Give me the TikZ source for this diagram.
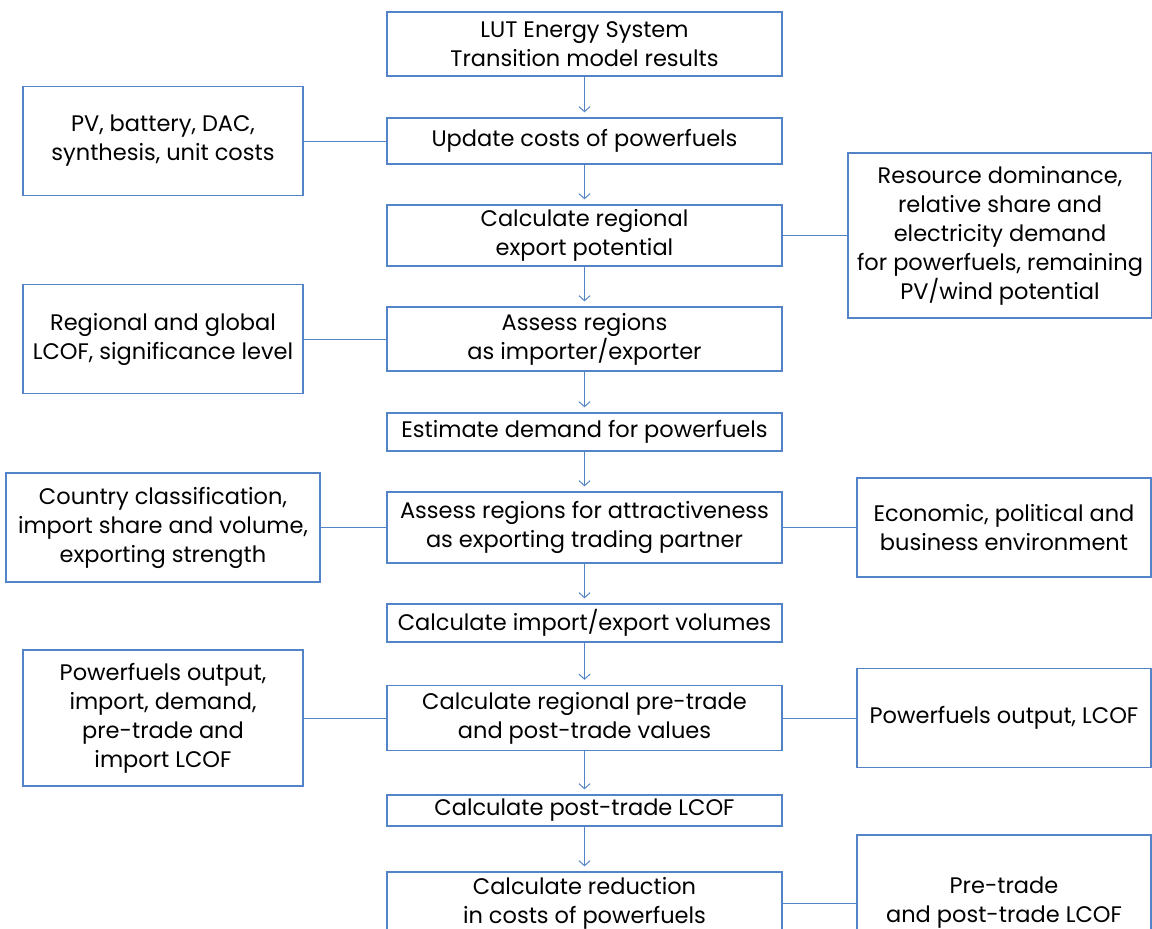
\documentclass[tikz,border=0pt]{standalone}
\usepackage{fontspec}
\setmainfont{Poppins}
\usepackage{xcolor}
\usetikzlibrary{positioning,arrows.meta}
\definecolor{boxblue}{RGB}{84,132,200}

\begin{document}
\begin{tikzpicture}[
    x=1pt,y=-1pt,
    font=\fontsize{22.5}{29}\selectfont,
    stage/.style={draw=boxblue,line width=1.3pt,minimum width=395pt,inner sep=0pt,align=center},
    input/.style={draw=boxblue,line width=1.3pt,inner sep=0pt,align=center},
    arr/.style={-{Straight Barb[length=5pt,width=11pt]},draw=boxblue,line width=1pt,shorten >=5pt},
    link/.style={draw=boxblue,line width=1pt}
  ]
    \useasboundingbox (0,0) rectangle (1152,929);

    \node[stage,minimum height=64pt] (lut) at (584.5,44) {LUT Energy System\\ Transition model results};
    \node[stage,minimum height=46pt] (upd) at (584.5,141) {Update costs of powerfuels};
    \node[stage,minimum height=61pt] (exp) at (584.5,235.5) {Calculate regional\\export potential};
    \node[stage,minimum height=64pt] (ass) at (584.5,339) {Assess regions\\as importer/exporter};
    \node[stage,minimum height=38pt] (dem) at (584.5,432) {Estimate demand for powerfuels};
    \node[stage,minimum height=71pt] (att) at (584.5,527.5) {Assess regions for attractiveness\\as exporting trading partner};
    \node[stage,minimum height=38pt] (vol) at (584.5,623) {Calculate import/export volumes};
    \node[stage,minimum height=65pt] (pre) at (584.5,718) {Calculate regional pre-trade\\and post-trade values};
    \node[stage,minimum height=31pt] (post) at (584.5,810.5) {Calculate post-trade LCOF};
    \node[stage,minimum height=62pt] (red) at (584.5,903) {Calculate reduction\\in costs of powerfuels};

    \node[input,minimum width=280pt,minimum height=109pt] (unit) at (163,141) {PV, battery, DAC,\\synthesis, unit costs};
    \node[input,minimum width=280pt,minimum height=109pt] (lcof) at (163,339) {Regional and global\\LCOF, significance level};
    \node[input,minimum width=314pt,minimum height=109pt] (cls) at (163,527.5) {Country classification,\\import share and volume,\\exporting strength};
    \node[input,minimum width=280pt,minimum height=136pt] (out) at (163,718) {Powerfuels output,\\import, demand,\\pre-trade and\\import LCOF};

    \node[input,minimum width=304pt,minimum height=165pt] (res) at (1000,235.5) {Resource dominance,\\relative share and\\electricity demand\\for powerfuels, remaining\\PV/wind potential};
    \node[input,minimum width=294pt,minimum height=99pt] (env) at (1004,527.5) {Economic, political and\\business environment};
    \node[input,minimum width=294pt,minimum height=99pt] (plc) at (1004,718) {Powerfuels output, LCOF};
    \node[input,minimum width=294pt,minimum height=136pt] (ppl) at (1004,903) {Pre-trade\\and post-trade LCOF};

    \draw[arr] (lut) -- (upd);
    \draw[arr] (upd) -- (exp);
    \draw[arr] (exp) -- (ass);
    \draw[arr] (ass) -- (dem);
    \draw[arr] (dem) -- (att);
    \draw[arr] (att) -- (vol);
    \draw[arr] (vol) -- (pre);
    \draw[arr] (pre) -- (post);
    \draw[arr] (post) -- (red);

    \draw[link] (unit) -- (upd);
    \draw[link] (lcof) -- (ass);
    \draw[link] (cls) -- (att);
    \draw[link] (out) -- (pre);
    \draw[link] (exp) -- (res);
    \draw[link] (att) -- (env);
    \draw[link] (pre) -- (plc);
    \draw[link] (red) -- (ppl);
  \end{tikzpicture}
\end{document}
